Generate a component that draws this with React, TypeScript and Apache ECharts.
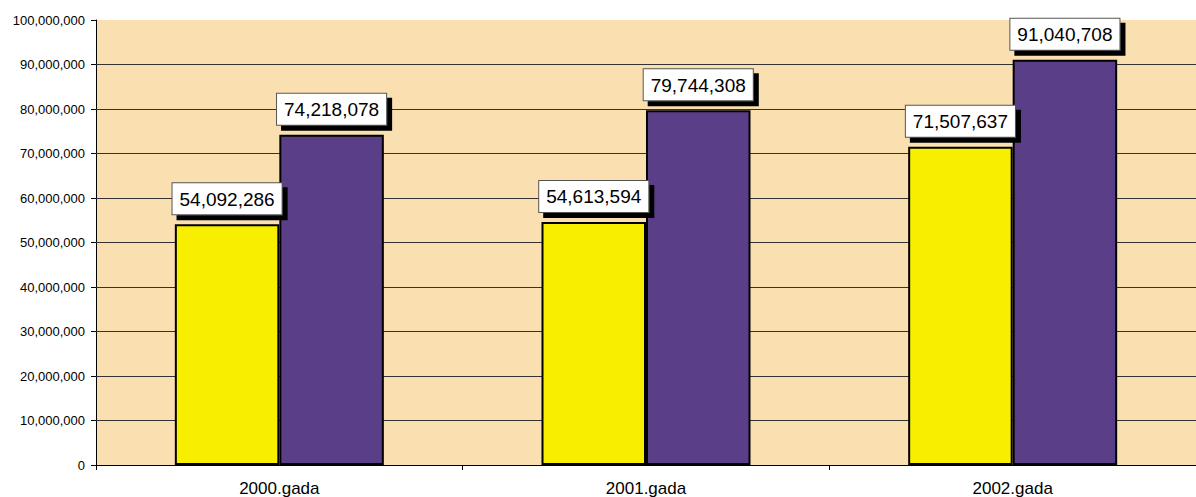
import React, { useEffect, useRef } from "react";
import * as echarts from "echarts";

const categories = ["2000.gada", "2001.gada", "2002.gada"];
const seriesA = [54092286, 54613594, 71507637];
const seriesB = [74218078, 79744308, 91040708];
const gridValues = [10000000, 20000000, 30000000, 40000000, 50000000, 60000000, 70000000, 80000000, 90000000];

const fmt = (v: number) => v.toLocaleString("en-US");
const FONT = "Liberation Sans, Arial, sans-serif";

export default function App() {
  const ref = useRef<HTMLDivElement>(null);
  useEffect(() => {
    const chart = echarts.init(ref.current!, null, { renderer: "svg" });
    const label = {
      show: true,
      position: "top",
      distance: 10,
      formatter: (p: any) => fmt(p.value),
      color: "#000",
      fontSize: 19,
      lineHeight: 22,
      fontFamily: FONT,
      backgroundColor: "#fff",
      borderColor: "#555",
      borderWidth: 1,
      padding: [5, 7, 4, 7],
      shadowColor: "#000",
      shadowOffsetX: 5,
      shadowOffsetY: 5,
      shadowBlur: 0,
    };
    chart.setOption({
      animation: false,
      grid: { left: 96, right: 0, top: 20, bottom: 32, show: false },
      xAxis: {
        type: "category",
        data: categories,
        axisLine: { lineStyle: { color: "#000", width: 1 } },
        axisTick: { show: true, length: 5, lineStyle: { color: "#000" } },
        axisLabel: { color: "#000", fontSize: 17, fontFamily: FONT, margin: 15 },
        splitLine: { show: false },
      },
      yAxis: {
        type: "value",
        min: 0,
        max: 100000000,
        interval: 10000000,
        axisLine: { show: true, lineStyle: { color: "#000", width: 1 } },
        axisTick: { show: true, length: 5, lineStyle: { color: "#000" } },
        axisLabel: { color: "#000", fontSize: 13, fontFamily: FONT, margin: 11, formatter: (v: number) => fmt(v) },
        splitLine: { show: false },
        splitArea: { show: true, areaStyle: { color: ["#FADFB1"] } },
      },
      series: [
        {
          type: "bar",
          data: seriesA,
          barGap: "0%",
          barCategoryGap: "43%",
          z: 3,
          itemStyle: { color: "#F7EE00", borderColor: "#000", borderWidth: 2 },
          label,
          markLine: {
            silent: true,
            z: 1,
            symbol: ["none", "none"],
            label: { show: false },
            lineStyle: { color: "#333", width: 1, type: "solid" },
            data: gridValues.map((v) => ({ yAxis: v })),
          },
        },
        {
          type: "bar",
          data: seriesB,
          z: 3,
          itemStyle: { color: "#5A3F88", borderColor: "#000", borderWidth: 2 },
          label,
        },
      ],
    });
    return () => chart.dispose();
  }, []);
  return <div ref={ref} style={{ width: 1196, height: 497, position: "absolute", left: 0, top: 0 }} />;
}
